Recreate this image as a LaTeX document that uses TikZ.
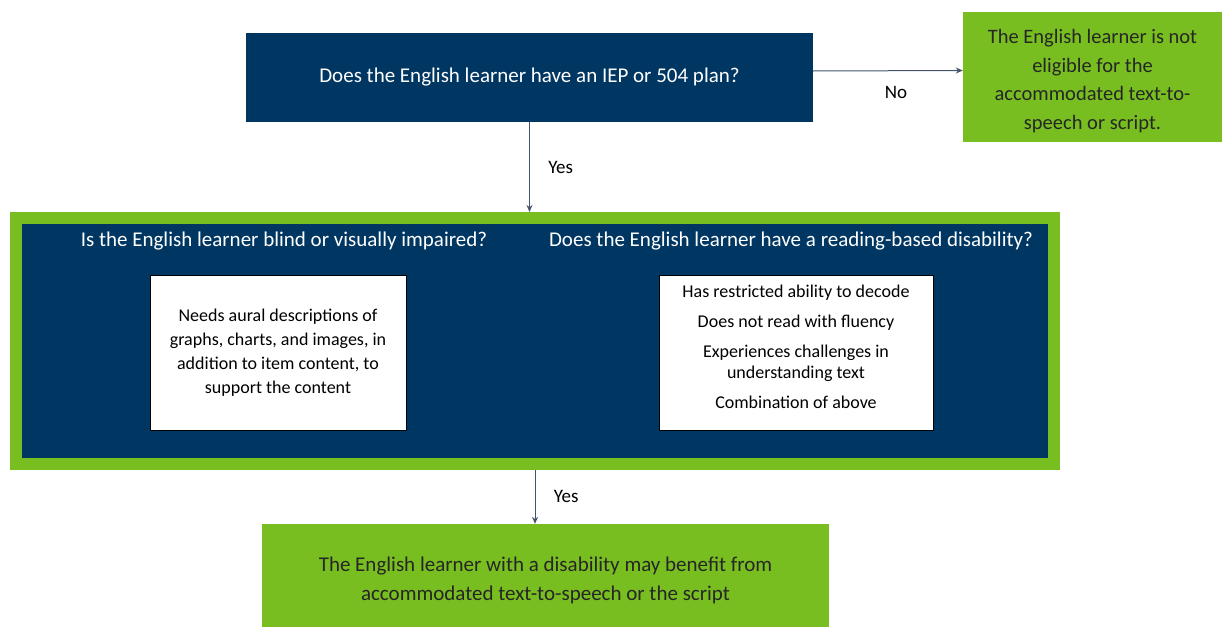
\documentclass[tikz,border=0pt]{standalone}
\usepackage{fontspec}
\setmainfont{Carlito}
\usetikzlibrary{arrows.meta,positioning}
\definecolor{elnavy}{RGB}{0,54,98}
\definecolor{elgreen}{RGB}{120,190,32}
\definecolor{elarrow}{RGB}{68,84,106}
\tikzset{flowpx/.style={x=1pt,y=-1pt,font=\fontsize{21}{25}\selectfont}}
\tikzset{navybox/.style={fill=elnavy,text=white,inner sep=0pt},
         greenbox/.style={fill=elgreen,text=black!85,align=center,inner sep=0pt},
         whitebox/.style={fill=white,draw=black,line width=0.9pt,align=center,inner sep=0pt,
                          font=\fontsize{18}{24}\selectfont},
         flowlabel/.style={font=\fontsize{19}{22}\selectfont},
         flowarrow/.style={draw=elarrow,line width=1pt,-{Stealth[length=7pt,width=6pt]}}}

\begin{document}
\begin{tikzpicture}[flowpx]
    \useasboundingbox (0,0) rectangle (1222,626);
    \node[navybox,minimum width=567pt,minimum height=89pt] (iep) at (529.5,77.5)
        {Does the English learner have an IEP or 504 plan?};
    \node[greenbox,minimum width=259pt,minimum height=130pt,
          font=\fontsize{20.5}{28.5}\selectfont] (noelig) at (1092.5,77)
        {\rule{0pt}{22pt}The English learner is not\\ eligible for the\\ accommodated text-to-\\ speech or script.};
    % outer frame holding both questions
    \node[fill=elnavy,draw=elgreen,line width=12pt,minimum width=1038pt,minimum height=246pt] (frame) at (535,341) {};
    \node[text=white] (blind) at (284,241) {Is the English learner blind or visually impaired?};
    \node[text=white] (reading) at (791,241) {Does the English learner have a reading-based disability?};
    \node[whitebox,minimum width=256pt,minimum height=155pt] (aural) at (278,352.5)
        {Needs aural descriptions of\\ graphs, charts, and images, in\\ addition to item content, to\\ support the content};
    \node[whitebox,minimum width=274pt,minimum height=155pt,font=\fontsize{18}{21}\selectfont] (decode) at (796,352.5)
        {Has restricted ability to decode\\[9pt] Does not read with fluency\\[9pt]
         Experiences challenges in\\ understanding text\\[9pt] Combination of above\\[-9pt]\mbox{}};
    \node[greenbox,minimum width=567pt,minimum height=112pt,font=\fontsize{21}{29}\selectfont] (benefit) at (545.5,580)
        {The English learner with a disability may benefit from\\ accommodated text-to-speech or the script};
    % connectors
    \draw[flowarrow] ([yshift=6.5pt]iep.east) -- node[flowlabel,below=12pt,xshift=8pt] (no) {No} ([yshift=6.5pt]noelig.west);
    \draw[flowarrow] (iep.south) -- node[flowlabel,right=15pt] (yes1) {Yes} (iep.south |- frame.north);
    \draw[flowarrow] (frame.south) -- node[flowlabel,right=15pt] (yes2) {Yes} (frame.south |- benefit.north);
\end{tikzpicture}
\end{document}
